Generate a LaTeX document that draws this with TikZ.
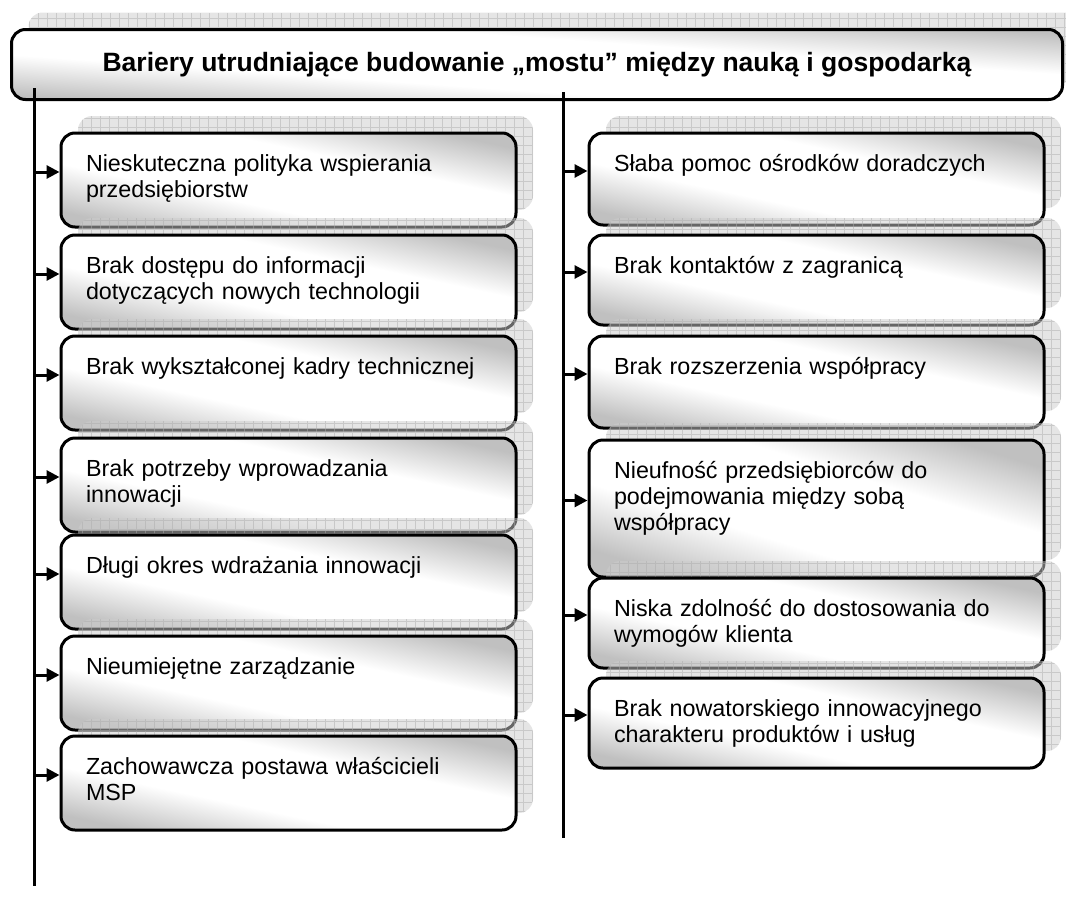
\documentclass[tikz,border=0pt]{standalone}
\usepackage{fontspec}
\setmainfont{Liberation Sans}
\usetikzlibrary{arrows.meta,shadows}

\definecolor{bargray}{RGB}{192,192,192}
\pgfdeclarehorizontalshading{refl}{100bp}{color(0bp)=(bargray); color(25bp)=(bargray);
  color(40bp)=(white); color(60bp)=(white); color(75bp)=(bargray); color(100bp)=(bargray)}

\begin{document}
\begin{tikzpicture}[x=1pt, y=-1pt,
    grid shadow/.style={drop shadow={shadow xshift=17pt, shadow yshift=17pt,
        fill=black!20, opacity=0.5,
        path picture={\draw[black!32, line width=0.4pt, step=9pt]
          (path picture bounding box.south west) grid (path picture bounding box.north east);}}},
    bar/.style={draw, line width=3pt, rounded corners=14pt, shading=refl, shading angle=78,
      grid shadow, anchor=north west, text width=429pt, inner xsep=13pt, inner ysep=4pt,
      align=left, execute at begin node={\leftskip=12pt},
      text height=34pt, text depth=#1, font=\fontsize{23.3}{26}\selectfont},
    bar/.default=52pt,
    arr/.style={line width=3pt, -{Triangle[length=13pt, width=13pt]}}]
  \useasboundingbox (0,0) rectangle (1066,905);

  \node (title) [draw, line width=3pt, rounded corners=14pt, shading=refl, shading angle=86,
    grid shadow, minimum width=1051pt, minimum height=70pt, inner sep=0pt,
    font=\bfseries\fontsize{26.5}{30}\selectfont] at (537,64.5)
    {Bariery utrudniające budowanie „mostu” między nauką i gospodarką};

  % left column
  \node (l1) [bar] at (59.5,131.5) {Nieskuteczna polityka wspierania\\przedsiębiorstw};
  \node (l2) [bar] at (59.5,233.5) {Brak dostępu do informacji\\dotyczących nowych technologii};
  \node (l3) [bar] at (59.5,334.5) {Brak wykształconej kadry technicznej};
  \node (l4) [bar] at (59.5,436.5) {Brak potrzeby wprowadzania\\innowacji};
  \node (l5) [bar] at (59.5,533.5) {Długi okres wdrażania innowacji};
  \node (l6) [bar] at (59.5,634.5) {Nieumiejętne zarządzanie};
  \node (l7) [bar] at (59.5,734.5) {Zachowawcza postawa właścicieli\\MSP};

  % right column
  \node (r1) [bar=50pt] at (587.5,131.5) {Słaba pomoc ośrodków doradczych};
  \node (r2) [bar=48pt] at (587.5,233.5) {Brak kontaktów z zagranicą};
  \node (r3) [bar=50pt] at (587.5,334.5) {Brak rozszerzenia współpracy};
  \node (r4) [bar=95pt, shading angle=73] at (587.5,438.5)
    {Nieufność przedsiębiorców do\\podejmowania między sobą\\współpracy};
  \node (r5) [bar=48pt] at (587.5,576.5) {Niska zdolność do dostosowania do\\wymogów klienta};
  \node (r6) [bar=48pt] at (587.5,676.5)
    {Brak nowatorskiego innowacyjnego\\charakteru produktów i usług};

  \coordinate (ltop) at (34.5,88);
  \coordinate (lbot) at (34.5,886);
  \coordinate (rtop) at (563,92);
  \coordinate (rbot) at (563,838);
  \draw [line width=3pt] (ltop) -- (lbot);
  \draw [line width=3pt] (rtop) -- (rbot);

  \foreach \i in {1,...,7}
    \draw [arr] ([yshift=8pt]l\i.west -| ltop) -- ([yshift=8pt]l\i.west);
  \foreach \i in {1,...,6}
    \draw [arr] ([yshift=8pt]r\i.west -| rtop) -- ([yshift=8pt]r\i.west);
\end{tikzpicture}
\end{document}
